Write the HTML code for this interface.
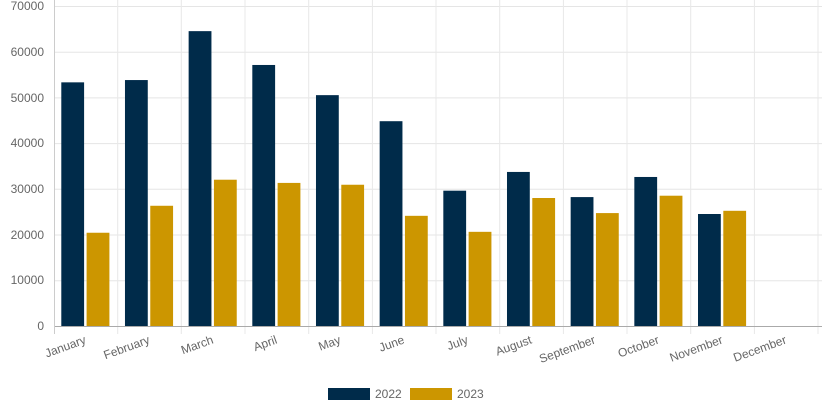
<!DOCTYPE html>
<html><head><meta charset="utf-8"><style>
html,body{margin:0;padding:0;background:#fff;}
svg{display:block;font-family:"Liberation Sans",Arial,sans-serif;}
</style></head><body>
<svg width="823" height="411" viewBox="0 0 823 411">
<g stroke="#e5e5e5" stroke-width="1">
<line x1="54" y1="6.5" x2="822" y2="6.5"/>
<line x1="54" y1="52.2" x2="822" y2="52.2"/>
<line x1="54" y1="97.9" x2="822" y2="97.9"/>
<line x1="54" y1="143.6" x2="822" y2="143.6"/>
<line x1="54" y1="189.3" x2="822" y2="189.3"/>
<line x1="54" y1="235" x2="822" y2="235"/>
<line x1="54" y1="280.7" x2="822" y2="280.7"/>
</g>
<g id="vg" stroke="#e8e8e8" stroke-width="1"></g>
<g id="bars"></g>
<line x1="54" y1="326.5" x2="822" y2="326.5" stroke="#aaa" stroke-width="1"/>
<line x1="54.5" y1="0" x2="54.5" y2="334" stroke="#ccc" stroke-width="1"/>
<g font-size="12" fill="#666" text-anchor="end">
<text x="44" y="10">70000</text>
<text x="44" y="56">60000</text>
<text x="44" y="102">50000</text>
<text x="44" y="147">40000</text>
<text x="44" y="193">30000</text>
<text x="44" y="239">20000</text>
<text x="44" y="284">10000</text>
<text x="44" y="330">0</text>
</g>
<g id="xl" font-size="12" fill="#666" text-anchor="end"></g>
<rect x="328" y="388" width="42" height="12" fill="#002b4a"/>
<text x="375" y="398" font-size="12" fill="#666">2022</text>
<rect x="410" y="388" width="42" height="12" fill="#cc9600"/>
<text x="457" y="398" font-size="12" fill="#666">2023</text>
<script>
var m=["January","February","March","April","May","June","July","August","September","October","November","December"];
var a=[53300,53800,64500,57100,50500,44800,29600,33700,28200,32600,24500,null];
var b=[20400,26300,32000,31300,30900,24100,20600,28000,24700,28500,25200,null];
var s=63.67,x0=54,y0=326,k=320/70000,ns="http://www.w3.org/2000/svg";
var vg=document.getElementById("vg"),bg=document.getElementById("bars"),xl=document.getElementById("xl");
function el(t,at,p){var e=document.createElementNS(ns,t);for(var q in at)e.setAttribute(q,at[q]);p.appendChild(e);return e;}
for(var i=0;i<12;i++){
 var gx=x0+s*(i+1);
 el("line",{x1:gx.toFixed(1),y1:0,x2:gx.toFixed(1),y2:334},vg);
 var bx=x0+s*i+7.3;
 if(a[i]!=null){el("rect",{x:bx,y:y0-a[i]*k,width:22.8,height:a[i]*k,fill:"#002b4a"},bg);
 el("rect",{x:bx+25.3,y:y0-b[i]*k,width:22.8,height:b[i]*k,fill:"#cc9600"},bg);}
 var cx=x0+s*i+s/2+1, cy=343;
 var t=el("text",{x:cx,y:cy,transform:"rotate(-20 "+cx+" "+cy+")"},xl);t.textContent=m[i];
}
</script>
</svg>
</body></html>
